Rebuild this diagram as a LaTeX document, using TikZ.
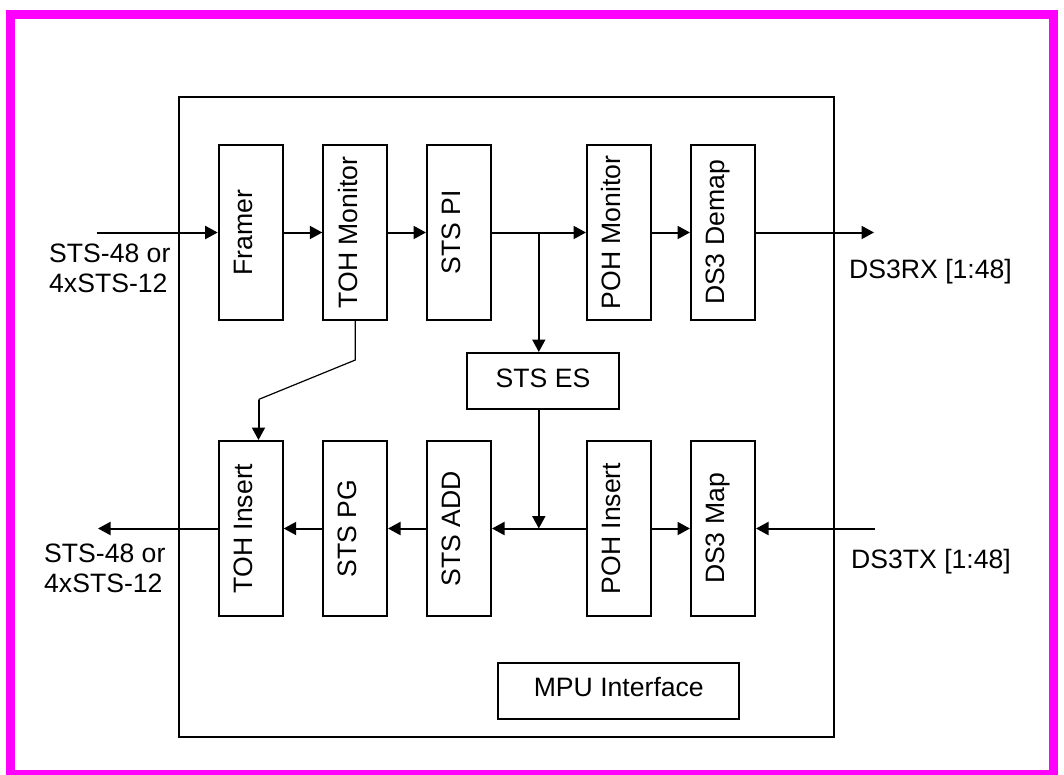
\documentclass[tikz,border=0pt]{standalone}
\usepackage{fontspec}
\usepackage{graphicx}
\setmainfont{Liberation Sans}
\usetikzlibrary{arrows.meta}
\definecolor{framemag}{HTML}{FF00FF}
% vertical block label, reading bottom to top
\newcommand\vlabel[1]{\rotatebox{90}{\raisebox{0pt}[3.8pt][0pt]{#1}}}
\begin{document}
\begin{tikzpicture}[x=1pt,y=-1pt,
  every node/.style={font=\fontsize{26.6}{30}\selectfont},
  blk/.style={draw,line width=2pt,inner sep=0pt},
  vblk/.style={blk,minimum width=64pt,minimum height=175pt},
  hblk/.style={blk,text height=12pt,text depth=0pt},
  arr/.style={line width=2pt,-{Triangle[length=12.5pt,width=13pt]}},
  link/.style={line width=1.2pt},
  lbl/.style={inner sep=0pt,align=left}]
\useasboundingbox (0,0) rectangle (1064,774);
% outer frame
\draw[framemag,line width=9pt] (10.5,14.5) rectangle (1053.5,774.5);
% device outline
\node[draw,line width=2pt,inner sep=0pt,minimum width=655pt,minimum height=640pt] (chip) at (506.5,417) {};

% receive path
\node[vblk] (framer) at (250.7,232.5) {\vlabel{Framer}};
\node[vblk] (tohmon) at (355.3,232.5) {\vlabel{TOH Monitor}};
\node[vblk] (stspi)  at (459,232.5)   {\vlabel{STS PI}};
\node[vblk] (pohmon) at (619,232.5)   {\vlabel{POH Monitor}};
\node[vblk] (demap)  at (723,232.5)   {\vlabel{DS3 Demap}};

% transmit path
\node[vblk] (tohins) at (250.7,528.5) {\vlabel{TOH Insert}};
\node[vblk] (stspg)  at (355,528.5)   {\vlabel{STS PG}};
\node[vblk] (stsadd) at (459,528.5)   {\vlabel{STS ADD}};
\node[vblk] (pohins) at (618.7,528.5) {\vlabel{POH Insert}};
\node[vblk] (map)    at (723,528.5)   {\vlabel{DS3 Map}};

\node[hblk,minimum width=152pt,minimum height=56pt] (es) at (543,381) {STS ES};
\node[hblk,minimum width=241pt,minimum height=56pt] (mpu) at (618.8,690.8) {MPU Interface};

% external signals
\coordinate (rxin) at (96.7,232.5);
\coordinate (rxout) at (874,232.5);
\coordinate (txin) at (875,528.5);
\coordinate (txout) at (98,528.5);
\node[lbl,anchor=north west] (rxinlbl) at (49,243.5) {STS-48 or\\4xSTS-12};
\node[lbl,anchor=north west] (txoutlbl) at (44,544) {STS-48 or\\4xSTS-12};
\node[lbl,anchor=north west] (rxoutlbl) at (849,259) {DS3RX [1:48]};
\node[lbl,anchor=north west] (txinlbl) at (851,549) {DS3TX [1:48]};

% receive connections
\draw[arr] (rxin) -- (framer);
\draw[arr] (framer) -- (tohmon);
\draw[arr] (tohmon) -- (stspi);
\draw[arr] (stspi) -- (pohmon);
\draw[arr] (pohmon) -- (demap);
\draw[arr] (demap) -- (rxout);

% drop to elastic store
\coordinate (tap) at (538.8,232.5);
\draw[arr] (tap) -- (tap |- es.north);
\coordinate (join) at (538.8,528.5);
\draw[arr] (join |- es.south) -- (join);

% transmit connections
\draw[arr] (txin) -- (map);
\draw[arr] (pohins) -- (map);
\draw[arr] (pohins) -- (stsadd);
\draw[arr] (stsadd) -- (stspg);
\draw[arr] (stspg) -- (tohins);
\draw[arr] (tohins) -- (txout);

% overhead link from monitor to insert
\coordinate (bend1) at (355.3,360);
\coordinate (bend2) at (258.5,399.5);
\draw[link] (tohmon.south) -- (bend1) -- (bend2);
\draw[arr] (bend2) -- (bend2 |- tohins.north);
\end{tikzpicture}
\end{document}
